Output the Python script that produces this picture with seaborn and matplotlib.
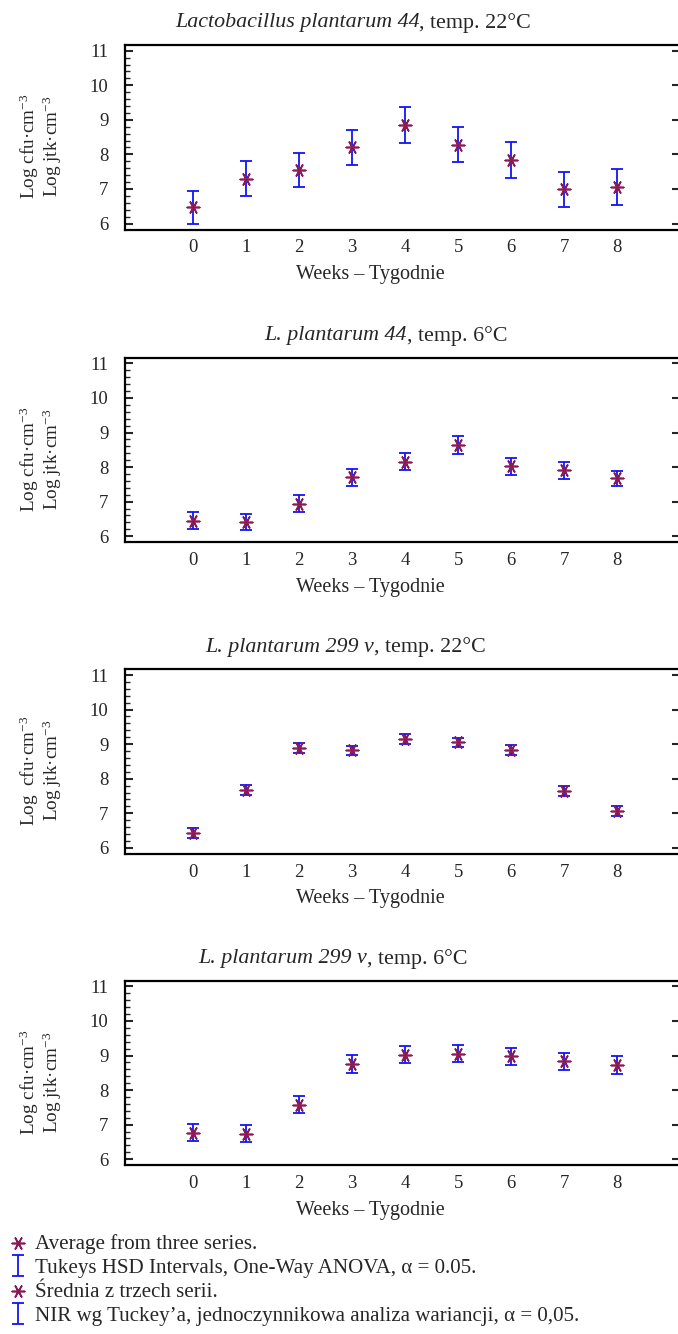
import matplotlib
matplotlib.use("Agg")
import matplotlib.pyplot as plt
import seaborn as sns
import pandas as pd
from matplotlib.ticker import MultipleLocator

weeks = [0, 1, 2, 3, 4, 5, 6, 7, 8]
title_italic = ["Lactobacillus plantarum 44", "L. plantarum 44",
                "L. plantarum 299 v", "L. plantarum 299 v"]
title_rest = [", temp. 22°C", ", temp. 6°C", ", temp. 22°C", ", temp. 6°C"]
ylabels = ["Log cfu·cm$^{-3}$\nLog jtk·cm$^{-3}$",
           "Log cfu·cm$^{-3}$\nLog jtk·cm$^{-3}$",
           "Log  cfu·cm$^{-3}$\nLog jtk·cm$^{-3}$",
           "Log cfu·cm$^{-3}$\nLog jtk·cm$^{-3}$"]
xlabel = "Weeks – Tygodnie"

mean_lp44_22 = [6.47, 7.30, 7.55, 8.21, 8.85, 8.28, 7.84, 6.99, 7.06]
hsd_lp44_22 = [0.47, 0.50, 0.50, 0.51, 0.51, 0.50, 0.51, 0.51, 0.51]
mean_lp44_6 = [6.45, 6.41, 6.94, 7.70, 8.16, 8.63, 8.02, 7.91, 7.67]
hsd_lp44_6 = [0.245, 0.24, 0.245, 0.24, 0.245, 0.265, 0.24, 0.245, 0.23]
mean_lp299_22 = [6.44, 7.68, 8.89, 8.82, 9.15, 9.05, 8.83, 7.64, 7.07]
hsd_lp299_22 = [0.145, 0.15, 0.145, 0.135, 0.145, 0.14, 0.145, 0.14, 0.15]
mean_lp299_6 = [6.77, 6.74, 7.58, 8.76, 9.02, 9.05, 8.98, 8.84, 8.73]
hsd_lp299_6 = [0.245, 0.24, 0.25, 0.255, 0.245, 0.25, 0.245, 0.245, 0.25]

means = [mean_lp44_22, mean_lp44_6, mean_lp299_22, mean_lp299_6]
hsds = [hsd_lp44_22, hsd_lp44_6, hsd_lp299_22, hsd_lp299_6]

legend_labels = ["Average from three series.",
                 "Tukeys HSD Intervals, One-Way ANOVA, α = 0.05.",
                 "Średnia z trzech serii.",
                 "NIR wg Tuckey’a, jednoczynnikowa analiza wariancji, α = 0,05."]

sns.set_style("ticks")
plt.rcParams['font.family'] = ['Liberation Serif', 'DejaVu Serif']
plt.rcParams['mathtext.fontset'] = 'custom'
plt.rcParams['mathtext.rm'] = 'Liberation Serif'
plt.rcParams['mathtext.it'] = 'Liberation Serif:italic'

W, H = 678, 1334
fig = plt.figure(figsize=(W / 100, H / 100), dpi=100)
renderer = fig.canvas.get_renderer()

tops = [45, 357.7, 669.3, 980.7]
ph = 184.5
left_px, right_px = 125, 680
title_cx = [353, 386, 346, 333]
marker_color = "#8B1A55"
err_color = "#1414F5"
star = (6, 2, 90)
title_fs = 15.8

handles = None
for i in range(4):
    bottom_px = tops[i] + ph
    ax = fig.add_axes([left_px / W, 1 - bottom_px / H, (right_px - left_px) / W, ph / H])
    df = pd.DataFrame({"week": weeks, "mean": means[i], "hsd": hsds[i]})
    eb = ax.errorbar(df["week"], df["mean"], yerr=df["hsd"], fmt='none',
                     ecolor=err_color, elinewidth=1.3, capsize=4.5, capthick=1.3, zorder=2)
    sns.scatterplot(data=df, x="week", y="mean", ax=ax, marker=star, s=80,
                    color=marker_color, edgecolor=marker_color, linewidth=1.2, zorder=3)
    sc = ax.collections[-1]
    ax.set_xlim(-1.278, 9.18)
    ax.set_ylim(5.827, 11.165)
    ax.set_xticks(weeks)
    ax.set_yticks([6, 7, 8, 9, 10, 11])
    ax.yaxis.set_minor_locator(MultipleLocator(0.2))
    ax.tick_params(axis='y', which='major', direction='in', length=6, width=1.5,
                   labelsize=13.5, pad=12, right=True)
    ax.tick_params(axis='y', which='minor', direction='in', length=3.5, width=1.0, left=True, right=False)
    ax.tick_params(axis='x', which='both', length=0, labelsize=13.5, pad=7)
    for s in ax.spines.values():
        s.set_linewidth(1.6)
        s.set_color('black')
    ax.set_xlabel("")
    ax.set_ylabel("")
    ax.text(-84 / (right_px - left_px), 0.45, ylabels[i], transform=ax.transAxes,
            rotation=90, ha='center', va='center', multialignment='center',
            fontsize=13.8, linespacing=0.97)
    # title: italic species part followed by roman part, centred together
    ty = 1 - (tops[i] - 22) / H
    t1 = fig.text(0, ty, title_italic[i], fontsize=title_fs, style='italic',
                  ha='left', va='center')
    t2 = fig.text(0, ty, title_rest[i], fontsize=title_fs, ha='left', va='center')
    w1 = t1.get_window_extent(renderer).width
    w2 = t2.get_window_extent(renderer).width
    x0 = title_cx[i] - (w1 + w2) / 2
    t1.set_x(x0 / W)
    t2.set_x((x0 + w1) / W)
    ax.text((370 - left_px) / (right_px - left_px), -45 / ph, xlabel,
            transform=ax.transAxes, ha='center', va='center', fontsize=14.5)
    if i == 3:
        handles = [sc, eb, sc, eb]

fig.legend(handles=handles, labels=legend_labels, loc='upper left',
           bbox_to_anchor=(0.014, 1 - 1234 / H), frameon=False, fontsize=15.1,
           handlelength=0.8, handletextpad=0.4, labelspacing=0.2,
           borderpad=0, borderaxespad=0)

fig.savefig("out.png", dpi=100)
